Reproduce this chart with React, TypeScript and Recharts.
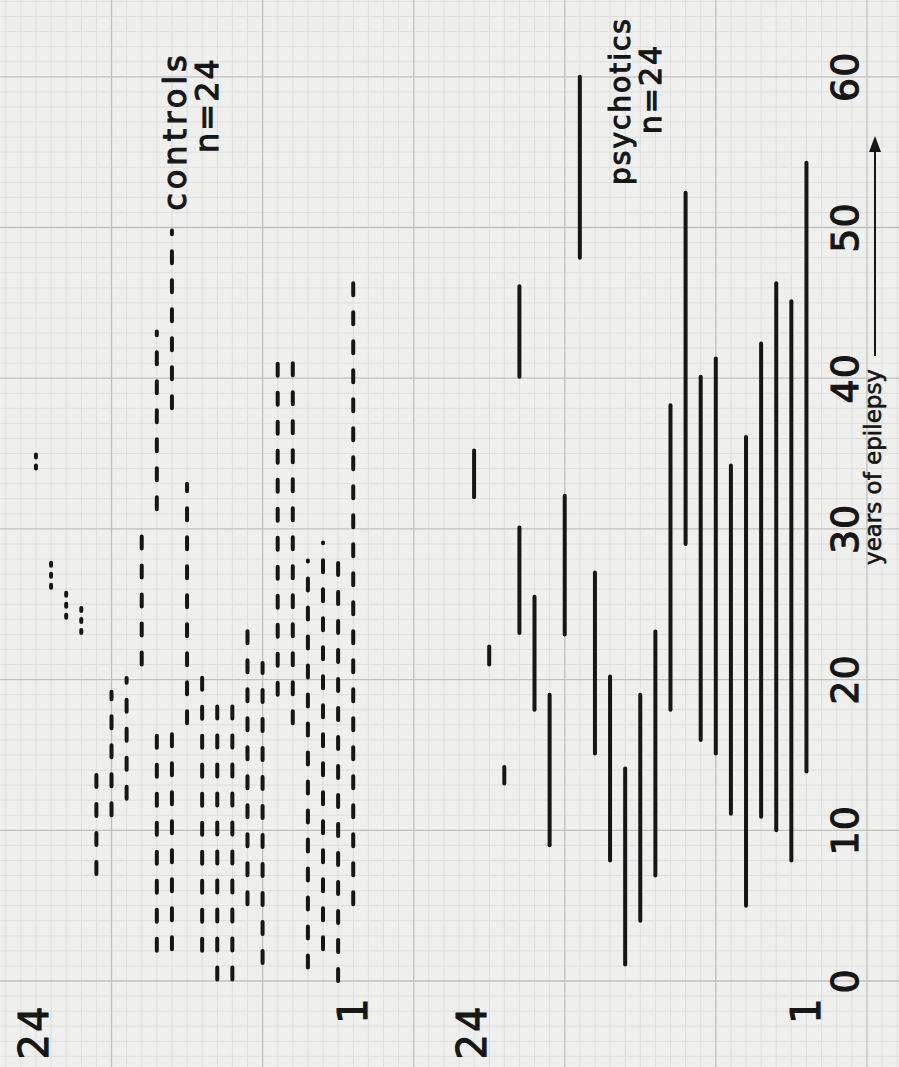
import React from "react";
import { ComposedChart, Bar, XAxis, YAxis, ReferenceLine, CartesianGrid, Customized } from "recharts";

const INK = "#161616";
const FONT = "'DejaVu Sans', sans-serif";
const PAPER = "#efefee";
const MINOR = "#dededd";
const MAJOR = "#c0c0bf";

// years of epilepsy per patient column, left to right (patient 24 ... 1)
const controlStart = [34.0, 26.1, 24.1, 23.1, 7.1, 11.0, 12.1, 21.0, 2.0, 2.1, 17.1, 2.0, 0.1, 0.1, 5.1, 1.2, 19.0, 17.1, 0.9, 2.1, 0.0, 5.1];
const controlEnd = [35.2, 28.1, 26.2, 25.1, 14.1, 19.2, 20.1, 30.1, 17.1, 17.1, 33.0, 21.1, 19.0, 19.0, 24.0, 21.1, 41.3, 42.0, 27.9, 29.1, 27.9, 47.2];
const controlStart2 = [null, null, null, null, null, null, null, null, 31.3, 38.0, null, null, null, null, null, null, null, null, null, null, null, null];
const controlEnd2 = [null, null, null, null, null, null, null, null, 43.1, 49.8, null, null, null, null, null, null, null, null, null, null, null, null];

const psychStart = [32.1, 21.0, 13.1, 23.1, 18.0, 9.0, 23.0, 48.0, 15.1, 8.0, 1.1, 4.0, 7.0, 18.0, 29.0, 16.0, 15.1, 11.1, 5.0, 10.9, 10.0, 8.0, 13.9];
const psychEnd = [35.2, 22.2, 14.2, 30.1, 25.5, 19.0, 32.2, 60.0, 27.1, 20.2, 14.1, 19.0, 23.2, 38.2, 52.3, 40.1, 41.3, 34.2, 36.1, 42.3, 46.3, 45.1, 54.3];
const psychStart2 = [null, null, null, 40.1, null, null, null, null, null, null, null, null, null, null, null, null, null, null, null, null, null, null, null];
const psychEnd2 = [null, null, null, 46.1, null, null, null, null, null, null, null, null, null, null, null, null, null, null, null, null, null, null, null];

const GAP_COLUMNS = 7;
const yearTicks = [0, 10, 20, 30, 40, 50, 60];
const firstPatientLabel = "24";
const lastPatientLabel = "1";

const YEAR_DOMAIN = [-5.707, 65.097];
const PAPER_DOMAIN = [-2.383, 57.122];

type Row = {
  id: string;
  k: number;
  group: string;
  tick: string;
  lo1: number | null;
  hi1: number | null;
  lo2: number | null;
  hi2: number | null;
};

const rows: Row[] = [];
const push = (group: string, lo1: any, hi1: any, lo2: any, hi2: any, tick: string) =>
  rows.push({ id: `col${rows.length}`, k: rows.length, group, tick, lo1, hi1, lo2, hi2 });

controlStart.forEach((s, i) =>
  push("controls", s, controlEnd[i], controlStart2[i], controlEnd2[i],
    i === 0 ? firstPatientLabel : i === controlStart.length - 1 ? lastPatientLabel : ""));
for (let g = 0; g < GAP_COLUMNS; g++) push("gap", null, null, null, null, "");
psychStart.forEach((s, i) =>
  push("psychotics", s, psychEnd[i], psychStart2[i], psychEnd2[i],
    i === 0 ? firstPatientLabel : i === psychStart.length - 1 ? lastPatientLabel : ""));

// graph paper: one minor square per year / per patient column
const paperRows: number[] = [];
for (let v = -5; v <= 65; v++) paperRows.push(v);
const paperCols: number[] = [];
for (let c = -2; c <= 57; c++) paperCols.push(c);
const isMajorRow = (v: number) => v % 10 === 0;
const isMajorCol = (c: number) => (c - 5) % 10 === 0;

const mapX = (axis: any, offset: any, c: number) =>
  axis && typeof axis.scale === "function"
    ? axis.scale(c)
    : offset.left + ((c - PAPER_DOMAIN[0]) / (PAPER_DOMAIN[1] - PAPER_DOMAIN[0])) * offset.width;
const mapY = (axis: any, offset: any, v: number) =>
  axis && typeof axis.scale === "function"
    ? axis.scale(v)
    : offset.top + ((YEAR_DOMAIN[1] - v) / (YEAR_DOMAIN[1] - YEAR_DOMAIN[0])) * offset.height;

const RotText = ({ x, y, size, spacing = 0, anchor = "middle", weight = 1.1, children }: any) => (
  <text
    x={x}
    y={y}
    transform={`rotate(-90 ${x} ${y})`}
    textAnchor={anchor}
    fontSize={size}
    fontFamily={FONT}
    letterSpacing={spacing}
    fill={INK}
    stroke={INK}
    strokeWidth={weight}
  >
    {children}
  </text>
);

const Segment = (props: any) => {
  const { x, y, width, height, payload, part } = props;
  const lo = payload ? payload[`lo${part}`] : null;
  if (lo == null || ![x, y, width, height].every((n) => Number.isFinite(n))) return <g />;
  const cx = x + width / 2;
  const top = Math.min(y, y + height);
  const bottom = Math.max(y, y + height);
  const dashed = payload.group === "controls";
  const short = bottom - top < 40;
  return (
    <line
      x1={cx}
      x2={cx}
      y1={bottom}
      y2={top}
      stroke={INK}
      strokeWidth={4}
      strokeLinecap="round"
      strokeDasharray={dashed ? (short ? "3 8" : "12 17") : undefined}
    />
  );
};

const yearLabel = (v: number) => (p: any) => {
  const vb = p.viewBox || {};
  return (
    <RotText x={vb.x + vb.width - 41} y={vb.y} size={38} spacing={1}>
      {v}
    </RotText>
  );
};

const patientLabel = (text: string) => (p: any) => {
  const vb = p.viewBox || {};
  const isLast = text === lastPatientLabel;
  return (
    <RotText
      x={vb.x + (isLast ? 14 : 12)}
      y={vb.y + vb.height - (isLast ? 57 : 35)}
      size={40}
      spacing={2}
    >
      {text}
    </RotText>
  );
};

const Annotations = () => (
  <g>
    <RotText x={186} y={131} size={32} spacing={4}>controls</RotText>
    <RotText x={218} y={105} size={32} spacing={2}>n=24</RotText>
    <RotText x={630} y={101} size={28} spacing={2}>psychotics</RotText>
    <RotText x={661} y={89} size={30} spacing={2}>n=24</RotText>
    <RotText x={881} y={467} size={23} weight={0.6}>years of epilepsy</RotText>
    <line x1={875} x2={875} y1={356} y2={146} stroke={INK} strokeWidth={2} />
    <path d="M875 136 L869 152 L881 152 Z" fill={INK} />
  </g>
);

const App: React.FC = () => (
  <div style={{ position: "absolute", left: 0, top: 0, width: 899, height: 1067, background: PAPER }}>
    <ComposedChart width={899} height={1067} data={rows} margin={{ top: 0, right: 0, bottom: 0, left: 0 }}>
      <XAxis xAxisId="a" dataKey="id" type="category" padding={{ left: 28.45, right: 84.95 }} hide />
      <XAxis xAxisId="b" dataKey="id" type="category" padding={{ left: 28.45, right: 84.95 }} hide />
      <XAxis xAxisId="paper" dataKey="k" type="number" domain={PAPER_DOMAIN} allowDataOverflow hide />
      <YAxis yAxisId="a" type="number" domain={YEAR_DOMAIN} allowDataOverflow hide />
      <YAxis yAxisId="b" type="number" domain={YEAR_DOMAIN} allowDataOverflow hide />

      <CartesianGrid
        xAxisId="paper"
        yAxisId="a"
        stroke={MINOR}
        strokeWidth={1}
        horizontalCoordinatesGenerator={({ yAxis, offset }: any) =>
          paperRows.filter((v) => !isMajorRow(v)).map((v) => mapY(yAxis, offset, v))}
        verticalCoordinatesGenerator={({ xAxis, offset }: any) =>
          paperCols.filter((c) => !isMajorCol(c)).map((c) => mapX(xAxis, offset, c))}
      />
      <CartesianGrid
        xAxisId="paper"
        yAxisId="a"
        stroke={MAJOR}
        strokeWidth={1.3}
        horizontalCoordinatesGenerator={({ yAxis, offset }: any) =>
          paperRows.filter(isMajorRow).map((v) => mapY(yAxis, offset, v))}
        verticalCoordinatesGenerator={({ xAxis, offset }: any) =>
          paperCols.filter(isMajorCol).map((c) => mapX(xAxis, offset, c))}
      />

      <Bar
        xAxisId="a"
        yAxisId="a"
        dataKey={(d: Row) => (d.lo1 == null ? null : [d.lo1, d.hi1])}
        shape={(p: any) => <Segment {...p} part={1} />}
        isAnimationActive={false}
      />
      <Bar
        xAxisId="b"
        yAxisId="b"
        dataKey={(d: Row) => (d.lo2 == null ? null : [d.lo2, d.hi2])}
        shape={(p: any) => <Segment {...p} part={2} />}
        isAnimationActive={false}
      />

      {yearTicks.map((v) => (
        <ReferenceLine key={`t${v}`} xAxisId="paper" yAxisId="a" y={v} stroke="none" label={yearLabel(v)} />
      ))}
      {rows
        .filter((r) => r.tick)
        .map((r) => (
          <ReferenceLine
            key={`p${r.id}`}
            xAxisId="a"
            yAxisId="a"
            x={r.id}
            stroke="none"
            label={patientLabel(r.tick)}
          />
        ))}
      <Customized component={Annotations} />
    </ComposedChart>
  </div>
);

export default App;
